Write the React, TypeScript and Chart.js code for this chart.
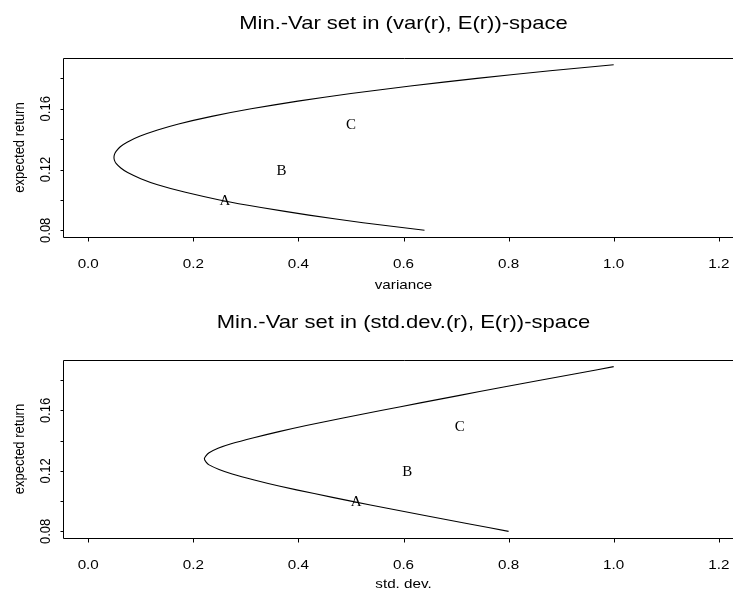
import React, { useEffect, useRef } from 'react';
import { Chart, registerables } from 'chart.js';

Chart.register(...registerables);

// ---- data ----
const expectedReturn = [
  0.080, 0.085, 0.090, 0.095, 0.100, 0.105, 0.110, 0.114, 0.118, 0.121, 0.124, 0.126, 0.128, 0.130,
  0.132, 0.135, 0.138, 0.142, 0.146, 0.150, 0.155, 0.160, 0.165, 0.170, 0.175, 0.180, 0.185, 0.189,
];
const frontierVariance = [
  0.640, 0.523, 0.420, 0.329, 0.250, 0.185, 0.132, 0.100, 0.075, 0.062, 0.053, 0.050, 0.049, 0.050,
  0.053, 0.061, 0.074, 0.099, 0.132, 0.172, 0.235, 0.310, 0.399, 0.500, 0.613, 0.740, 0.879, 1.000,
];
const frontierStdDev = [
  0.800, 0.723, 0.648, 0.574, 0.500, 0.430, 0.363, 0.316, 0.274, 0.249, 0.230, 0.224, 0.221, 0.224,
  0.230, 0.247, 0.272, 0.315, 0.363, 0.415, 0.485, 0.557, 0.632, 0.707, 0.783, 0.860, 0.938, 1.000,
];
const portfolioNames = ['A', 'B', 'C'];
const portfolioReturn = [0.10, 0.12, 0.15];
const portfolioVariance = [0.26, 0.368, 0.50];
const portfolioStdDev = [0.51, 0.607, 0.707];

const xTickValues = [0, 0.2, 0.4, 0.6, 0.8, 1.0, 1.2];
const xTickLabels = ['0.0', '0.2', '0.4', '0.6', '0.8', '1.0', '1.2'];
const yTickValues = [0.08, 0.10, 0.12, 0.14, 0.16, 0.18];
const yTickLabelValues = [0.08, 0.12, 0.16];
const yTickLabels = ['0.08', '0.12', '0.16'];

const X_MIN = -0.048;
const X_MAX = 1.248;
const Y_MIN = 0.0756;
const Y_MAX = 0.1934;

const SANS = '"Liberation Sans", Arial, Helvetica, sans-serif';
const SERIF = '"Liberation Serif", "Times New Roman", serif';
const STRETCH = 1.17;

function drawText(
  ctx: CanvasRenderingContext2D,
  text: string,
  x: number,
  y: number,
  size: number,
  family: string,
  sx: number,
  rotation = 0,
) {
  ctx.save();
  ctx.translate(x, y);
  ctx.scale(sx, 1);
  if (rotation) ctx.rotate(rotation);
  ctx.font = `${size}px ${family}`;
  ctx.textAlign = 'center';
  ctx.textBaseline = 'alphabetic';
  ctx.fillStyle = '#000';
  ctx.fillText(text, 0, 0);
  ctx.restore();
}

type PanelProps = {
  title: string;
  xLabel: string;
  curveX: number[];
  pointX: number[];
  top: number;
  height: number;
  padTop: number;
  padBottom: number;
  titleBaseline: number;
  xLabelOffset: number;
};

const CANVAS_W = 744;

function Panel(props: PanelProps) {
  const ref = useRef<HTMLCanvasElement>(null);
  useEffect(() => {
    const canvas = ref.current;
    if (!canvas) return;
    const rPlugin = {
      id: 'rStyle',
      afterDraw(chart: any) {
        const { ctx, chartArea: a, scales } = chart;
        const xs = scales.x;
        const ys = scales.y;
        const left = Math.round(a.left) + 0.5;
        const top = Math.round(a.top) + 0.5;
        const bottom = Math.round(a.bottom) + 0.5;
        ctx.save();
        ctx.strokeStyle = '#000';
        ctx.lineWidth = 1;
        ctx.beginPath();
        ctx.moveTo(a.right + 5, top);
        ctx.lineTo(left, top);
        ctx.lineTo(left, bottom);
        ctx.lineTo(a.right + 5, bottom);
        for (const v of xTickValues) {
          const px = Math.round(xs.getPixelForValue(v)) + 0.5;
          ctx.moveTo(px, bottom);
          ctx.lineTo(px, bottom + 4);
        }
        for (const v of yTickValues) {
          const py = Math.round(ys.getPixelForValue(v)) + 0.5;
          ctx.moveTo(left, py);
          ctx.lineTo(left - 3, py);
        }
        ctx.stroke();
        ctx.restore();

        xTickValues.forEach((v, i) => {
          drawText(ctx, xTickLabels[i], xs.getPixelForValue(v), a.bottom + 31, 13, SANS, STRETCH);
        });
        yTickLabelValues.forEach((v, i) => {
          drawText(ctx, yTickLabels[i], 50, ys.getPixelForValue(v), 13, SANS, STRETCH, -Math.PI / 2);
        });
        drawText(ctx, props.xLabel, (a.left + a.right) / 2, a.bottom + props.xLabelOffset, 13, SANS, STRETCH);
        drawText(ctx, 'expected return', 23.5, (a.top + a.bottom) / 2, 13, SANS, STRETCH, -Math.PI / 2);
        drawText(ctx, props.title, (a.left + a.right) / 2, props.titleBaseline, 18.5, SANS, 1.19);

        const pts = chart.data.datasets[1].data as { x: number; y: number }[];
        pts.forEach((p, i) => {
          drawText(ctx, portfolioNames[i], xs.getPixelForValue(p.x), ys.getPixelForValue(p.y) + 5, 15, SERIF, 1);
        });
      },
    };

    const chart = new Chart(canvas, {
      type: 'scatter',
      data: {
        datasets: [
          {
            data: props.curveX.map((x, i) => ({ x, y: expectedReturn[i] })),
            showLine: true,
            borderColor: '#000',
            borderWidth: 1.1,
            pointRadius: 0,
            tension: 0.2,
            fill: false,
          },
          {
            data: props.pointX.map((x, i) => ({ x, y: portfolioReturn[i] })),
            showLine: false,
            pointRadius: 0,
          },
        ],
      },
      options: {
        responsive: false,
        animation: false,
        events: [],
        devicePixelRatio: 1,
        layout: { padding: { left: 63, right: 0, top: props.padTop, bottom: props.padBottom } },
        scales: {
          x: { type: 'linear', display: false, min: X_MIN, max: X_MAX },
          y: { type: 'linear', display: false, min: Y_MIN, max: Y_MAX },
        },
        plugins: {
          legend: { display: false },
          tooltip: { enabled: false },
          title: { display: false },
        },
      },
      plugins: [rPlugin],
    } as any);
    return () => chart.destroy();
  }, []);

  return (
    <div style={{ position: 'absolute', left: 0, top: props.top, width: CANVAS_W, height: props.height }}>
      <canvas ref={ref} width={CANVAS_W} height={props.height} style={{ width: CANVAS_W, height: props.height, display: 'block' }} />
    </div>
  );
}

export default function App() {
  return (
    <div style={{ position: 'absolute', left: 0, top: 0, width: 733, height: 592, overflow: 'hidden', background: '#fff' }}>
      <Panel
        title="Min.-Var set in (var(r), E(r))-space"
        xLabel="variance"
        curveX={frontierVariance}
        pointX={portfolioVariance}
        top={0}
        height={296}
        padTop={58}
        padBottom={59}
        titleBaseline={28.5}
        xLabelOffset={52}
      />
      <Panel
        title="Min.-Var set in (std.dev.(r), E(r))-space"
        xLabel="std. dev."
        curveX={frontierStdDev}
        pointX={portfolioStdDev}
        top={296}
        height={296}
        padTop={64}
        padBottom={54}
        titleBaseline={32}
        xLabelOffset={50}
      />
    </div>
  );
}
